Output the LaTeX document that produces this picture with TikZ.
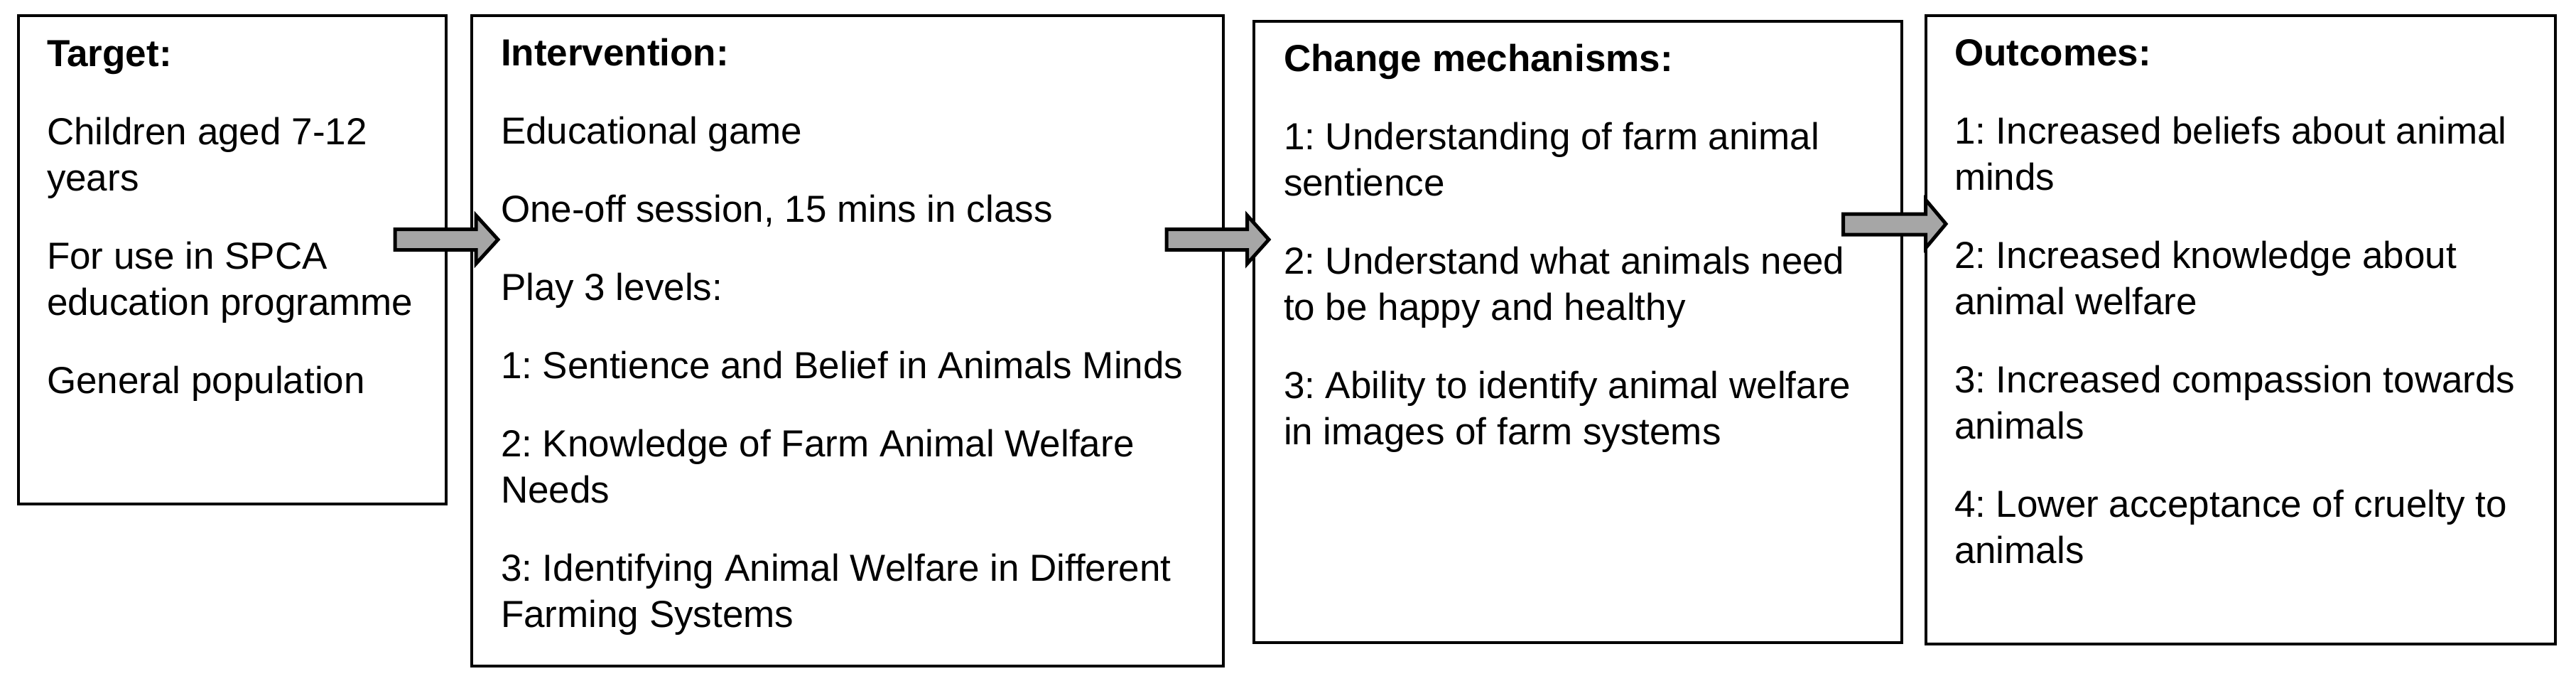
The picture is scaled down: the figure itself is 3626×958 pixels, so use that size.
\documentclass[tikz,border=0pt]{standalone}
\usepackage{fontspec}
\setmainfont{Liberation Sans}
\frenchspacing
\definecolor{arrowgray}{RGB}{166,166,166}
\begin{document}
\begin{tikzpicture}[x=1pt,y=-1pt,
  box/.style={draw=black, line width=4pt, rectangle, anchor=north west, inner sep=0pt, outer sep=0pt},
  txt/.style={anchor=north west, inner sep=0pt, outer sep=0pt, align=left, font=\fontsize{53}{65}\selectfont\frenchspacing},
  blockarrow/.style={draw=black, fill=arrowgray, line width=5pt, line join=miter}]
\useasboundingbox (0,0) rectangle (3626,958);

% boxes
\node[box, minimum width=602pt, minimum height=687pt] (b1) at (26,22) {};
\node[box, minimum width=1058pt, minimum height=915pt] (b2) at (664,22) {};
\node[box, minimum width=912pt, minimum height=874pt] (b3) at (1765,30) {};
\node[box, minimum width=886pt, minimum height=884pt] (b4) at (2711,22) {};

% texts
\node[txt] (t1) at (66,47.5) {\strut\textbf{Target:}\\[45pt]
Children aged 7-12\\
years\\[45pt]
For use in SPCA\\
education programme\\[45pt]
General population};

\node[txt] (t2) at (705,46.5) {\strut\textbf{Intervention:}\\[45pt]
Educational game\\[45pt]
One-off session, 15 mins in class\\[45pt]
Play 3 levels:\\[45pt]
1: Sentience and Belief in Animals Minds\\[45pt]
2: Knowledge of Farm Animal Welfare\\
Needs\\[45pt]
3: Identifying Animal Welfare in Different\\
Farming Systems};

\node[txt] (t3) at (1807,54.5) {\strut\textbf{Change mechanisms:}\\[45pt]
1: Understanding of farm animal\\
sentience\\[45pt]
2: Understand what animals need\\
to be happy and healthy\\[45pt]
3: Ability to identify animal welfare\\
in images of farm systems};

\node[txt] (t4) at (2751,46.5) {\strut\textbf{Outcomes:}\\[45pt]
1: Increased beliefs about animal\\
minds\\[45pt]
2: Increased knowledge about\\
animal welfare\\[45pt]
3: Increased compassion towards\\
animals\\[45pt]
4: Lower acceptance of cruelty to\\
animals};

% block arrows
\draw[blockarrow] (556,322.5) -- (670,322.5) -- (670,303) -- (701,337) -- (670,371) -- (670,351.5) -- (556,351.5) -- cycle;
\draw[blockarrow] (1642,322.5) -- (1755.5,322.5) -- (1755.5,303) -- (1786,337) -- (1755.5,371) -- (1755.5,351.5) -- (1642,351.5) -- cycle;
\draw[blockarrow] (2594.5,301) -- (2710.5,301) -- (2710.5,281) -- (2739,315) -- (2710.5,349) -- (2710.5,330) -- (2594.5,330) -- cycle;
\end{tikzpicture}
\end{document}
